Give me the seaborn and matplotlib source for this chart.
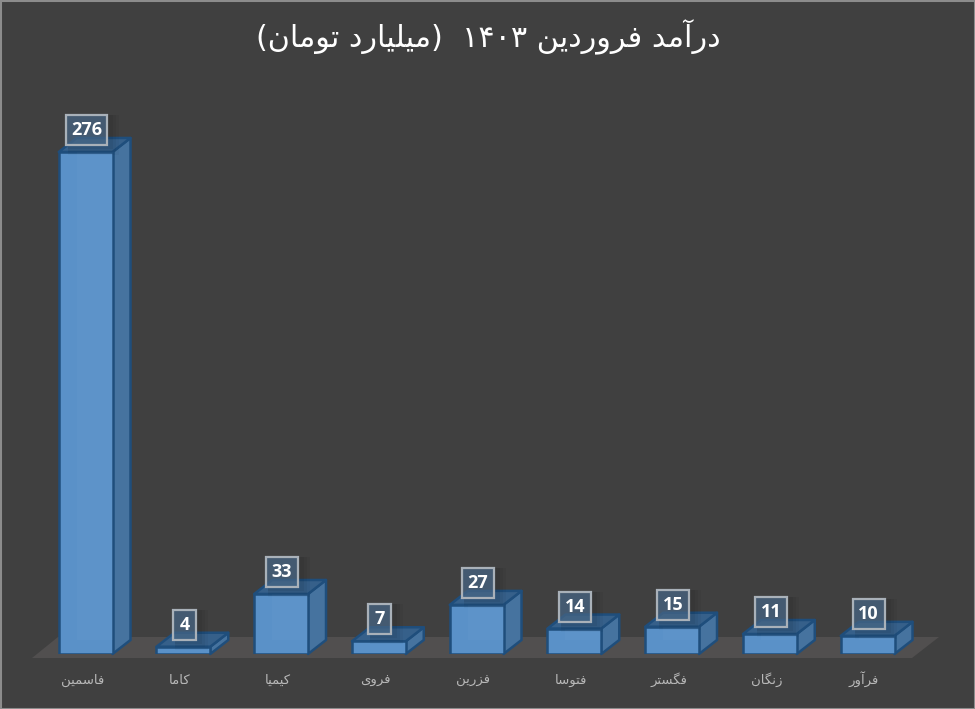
import numpy as np
import pandas as pd
import seaborn as sns
import matplotlib.pyplot as plt
from matplotlib.patches import Polygon, Rectangle
from matplotlib.transforms import IdentityTransform, ScaledTranslation

# Data

companies = ["فاسمین", "کاما", "کیمیا", "فروی", "فزرین", "فتوسا", "فگستر", "زنگان", "فرآور"]
revenue = [276, 4, 33, 7, 27, 14, 15, 11, 10]
title_words = ["درآمد", "فروردین"]
title_year = "۱۴۰۳"
title_unit = "(میلیارد تومان)"

BG = "#404040"
FRONT = "#5a91c8"
SIDE = "#46739f"
TOP = "#36608a"
EDGE = "#1f4e7c"
FLOOR = "#514f4f"
W, H = 975, 709
DX, DY = 18, 14

# Arabic shaping, matplotlib does not do it by itself
# letter: isolated, final, initial, medial
FORMS = {
    "ا": "\uFE8D\uFE8E", "آ": "\uFE81\uFE82", "د": "\uFEA9\uFEAA", "ر": "\uFEAD\uFEAE",
    "ز": "\uFEAF\uFEB0", "و": "\uFEED\uFEEE",
    "ت": "\uFE95\uFE96\uFE97\uFE98", "س": "\uFEB1\uFEB2\uFEB3\uFEB4",
    "ف": "\uFED1\uFED2\uFED3\uFED4", "ل": "\uFEDD\uFEDE\uFEDF\uFEE0",
    "م": "\uFEE1\uFEE2\uFEE3\uFEE4", "ن": "\uFEE5\uFEE6\uFEE7\uFEE8",
    "ی": "\uFBFC\uFBFD\uFBFE\uFBFF", "ک": "\uFB8E\uFB8F\uFB90\uFB91",
    "گ": "\uFB92\uFB93\uFB94\uFB95",
}


def shape_word(word):
    out = []
    for i, ch in enumerate(word):
        if ch not in FORMS:
            # brackets are mirrored in a right to left line
            out.append({"(": ")", ")": "("}.get(ch, ch))
            continue
        forms = FORMS[ch]
        prev_joins = i > 0 and word[i - 1] in FORMS and len(FORMS[word[i - 1]]) == 4
        next_joins = i + 1 < len(word) and word[i + 1] in FORMS and len(forms) == 4
        if prev_joins and next_joins:
            out.append(forms[3])
        elif prev_joins:
            out.append(forms[1])
        elif next_joins:
            out.append(forms[2])
        else:
            out.append(forms[0])
    return "".join(out[::-1])


def shape(text):
    return " ".join(shape_word(w) for w in text.split(" ")[::-1])


def poly(ax, pts, **kw):
    ax.add_patch(Polygon([(x, H - y) for x, y in pts], closed=True,
                         transform=IdentityTransform(), clip_on=False, **kw))


sns.set_theme(style="white", rc={"axes.facecolor": "none", "figure.facecolor": BG})
plt.rcParams["font.family"] = ["DejaVu Sans"]

fig = plt.figure(figsize=(W / 100, H / 100), dpi=100)
ax = fig.add_axes([36.75 / W, (H - 654) / H, 879.75 / W, 545.7 / H])

df = pd.DataFrame({"company": companies, "revenue": revenue})

sns.barplot(data=df, x="company", y="revenue", color=FRONT, saturation=1, width=0.55,
            edgecolor=EDGE, linewidth=1.8, ax=ax, zorder=3)
ax.set_ylim(0, 300)
ax.set_xlim(-0.5, len(companies) - 0.5)
ax.set_xlabel("")
ax.set_ylabel("")
ax.set_yticks([])
ax.set_xticks(np.arange(len(companies)))
ax.set_xticklabels([shape(c) for c in companies], color="#b8b8b8", fontsize=9.5)
ax.tick_params(axis="x", length=0, pad=21.6)
# the labels sit a little left of the bar centres, on one baseline
for label in ax.get_xticklabels():
    label.set_va("baseline")
    label.set_transform(label.get_transform() + ScaledTranslation(-0.035, 0, fig.dpi_scale_trans))
sns.despine(ax=ax, left=True, bottom=True)

# floor of the 3d chart
poly(ax, [(32, 658), (912, 658), (939, 637), (58, 637)], facecolor=FLOOR, edgecolor="none", zorder=0)

fig.canvas.draw()
for bar, val in zip(ax.containers[0], revenue):
    (x0, y0), (x1, y1) = ax.transData.transform([(bar.get_x(), 0), (bar.get_x() + bar.get_width(), val)])
    base, top = H - y0, H - y1
    # side and top faces
    poly(ax, [(x1, base), (x1 + DX, base - DY), (x1 + DX, top - DY), (x1, top)],
         facecolor=SIDE, edgecolor=EDGE, linewidth=1.8, joinstyle="round", zorder=2)
    poly(ax, [(x0, top), (x0 + DX, top - DY), (x1 + DX, top - DY), (x1, top)],
         facecolor=TOP, edgecolor=EDGE, linewidth=1.8, joinstyle="round", zorder=2)
    # the back edges show through the front face
    if base - top > DY:
        ax.add_patch(Rectangle((x0 + DX, H - base + DY), x1 - x0 - DX, base - top - DY,
                               facecolor="white", alpha=0.02, edgecolor="none",
                               transform=IdentityTransform(), zorder=4))

    # value box, width follows the digits
    cx, cy = (x0 + x1) / 2 + 1, top - 22
    bw = {1: 23, 2: 32, 3: 41}[len(str(val))]
    for grow, a in zip([20, 14, 8], [0.03, 0.04, 0.05]):
        ax.add_patch(Rectangle((cx - bw / 2 + 2, H - cy - 15 - grow / 2), bw + grow / 2, 30 + grow / 2,
                               facecolor="black", alpha=a, edgecolor="none",
                               transform=IdentityTransform(), zorder=5))
    ax.add_patch(Rectangle((cx - bw / 2, H - cy - 15), bw, 30, facecolor="#4a6a8a", alpha=0.7,
                           edgecolor="none", transform=IdentityTransform(), zorder=6))
    ax.add_patch(Rectangle((cx - bw / 2, H - cy - 15), bw, 30, facecolor="none", edgecolor="#a9b1b9",
                           linewidth=1.6, transform=IdentityTransform(), zorder=7))
    ax.text(cx, H - cy, str(val), color="white", fontsize=13, fontweight="bold", family="Open Sans",
            ha="center", va="center", transform=IdentityTransform(), zorder=8)

# title, the digits keep their own order inside the rtl line
title = shape(title_unit) + "  " + title_year + " " + shape(" ".join(title_words))
fig.text(488 / W, 1 - 37 / H, title, color="white", fontsize=21.8, ha="center", va="center")

# thin frame around the picture
fig.add_artist(Rectangle((0, 0), 1, 1, transform=fig.transFigure, facecolor="none",
                         edgecolor="#8c8c8c", linewidth=2.2))

fig.savefig("out.png", dpi=100)
